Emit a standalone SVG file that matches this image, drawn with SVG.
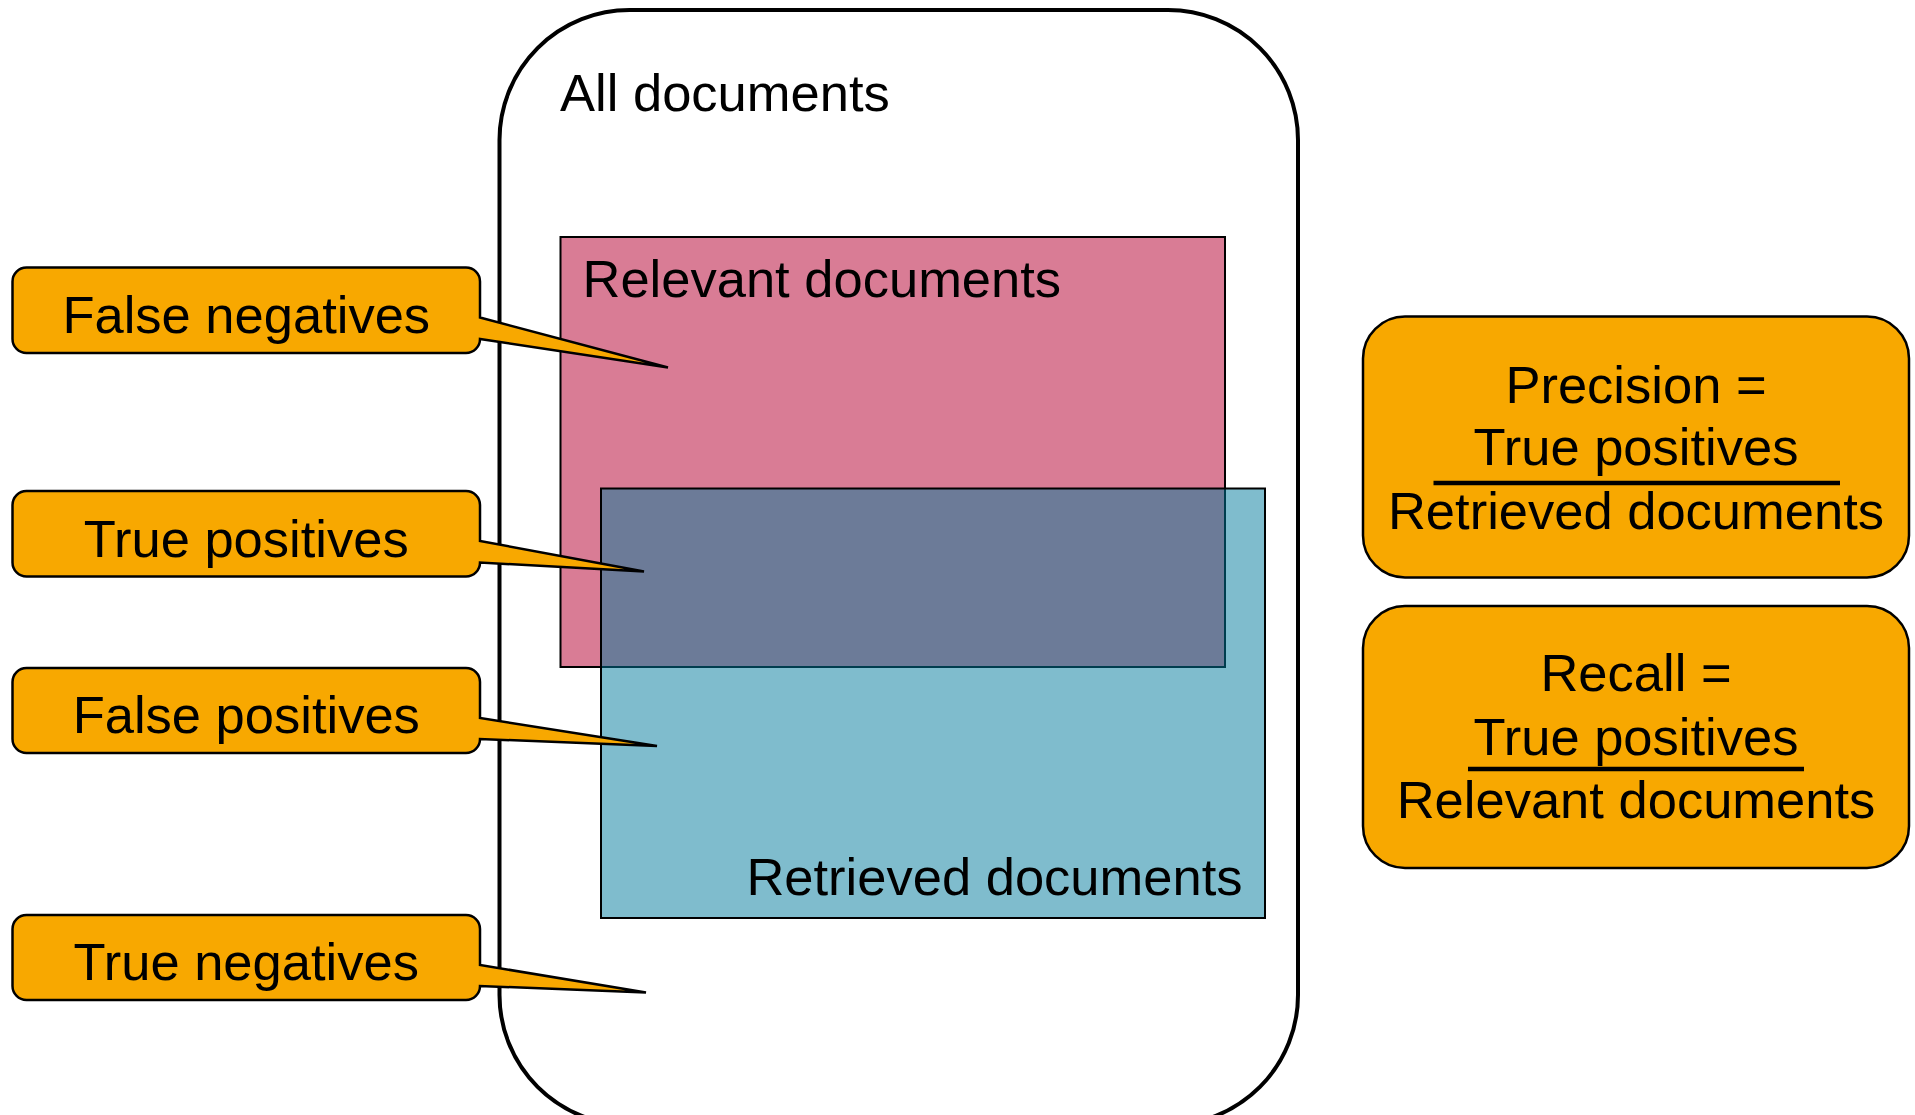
<svg xmlns="http://www.w3.org/2000/svg" width="1915" height="1115" viewBox="0 0 1915 1115">
  <style>
    text { font-family: "Liberation Sans", Arial, sans-serif; font-size: 52.5px; fill: #000; }
    .mid { text-anchor: middle; }
    .callout { fill: #F8A800; stroke: #000; stroke-width: 2.5; stroke-linejoin: miter; }
    .formula { fill: #F8A800; stroke: #000; stroke-width: 2.5; }
    .bar { stroke: #000; stroke-width: 4.5; }
  </style>
  <rect width="1915" height="1115" fill="#fff"/>

  <!-- the set of all documents -->
  <g id="all-documents">
    <rect x="499.5" y="10" width="798.5" height="1115" rx="130" ry="130" fill="#fff" stroke="#000" stroke-width="4"/>
    <text x="560" y="110.5">All documents</text>
  </g>

  <!-- relevant documents -->
  <g id="relevant-documents">
    <rect x="560.5" y="237" width="664.5" height="430" fill="#D97C95" stroke="#000" stroke-width="2"/>
    <text x="582.5" y="297">Relevant documents</text>
  </g>

  <!-- retrieved documents, laid over the relevant set -->
  <g id="retrieved-documents">
    <rect x="601" y="488.5" width="664" height="429.5" fill="#00799B" fill-opacity="0.5" stroke="#000" stroke-width="2"/>
    <text x="1242.5" y="895" text-anchor="end">Retrieved documents</text>
  </g>

  <!-- callouts pointing into the regions -->
  <g id="false-negatives">
    <path class="callout" d="M26.5 267.5 H466 A14 14 0 0 1 480 281.5 V317.5 L668 367.5 L480 339 A14 14 0 0 1 466 353 H26.5 A14 14 0 0 1 12.5 339 V281.5 A14 14 0 0 1 26.5 267.5 Z"/>
    <text class="mid" x="246.25" y="333.3">False negatives</text>
  </g>
  <g id="true-positives">
    <path class="callout" d="M26.5 491 H466 A14 14 0 0 1 480 505 V541 L644 571.5 L480 562.5 A14 14 0 0 1 466 576.5 H26.5 A14 14 0 0 1 12.5 562.5 V505 A14 14 0 0 1 26.5 491 Z"/>
    <text class="mid" x="246.25" y="556.7">True positives</text>
  </g>
  <g id="false-positives">
    <path class="callout" d="M26.5 668 H466 A14 14 0 0 1 480 682 V718 L657 746 L480 739 A14 14 0 0 1 466 753 H26.5 A14 14 0 0 1 12.5 739 V682 A14 14 0 0 1 26.5 668 Z"/>
    <text class="mid" x="246.25" y="732.7">False positives</text>
  </g>
  <g id="true-negatives">
    <path class="callout" d="M26.5 915 H466 A14 14 0 0 1 480 929 V965 L646 992.5 L480 986 A14 14 0 0 1 466 1000 H26.5 A14 14 0 0 1 12.5 986 V929 A14 14 0 0 1 26.5 915 Z"/>
    <text class="mid" x="246.25" y="980">True negatives</text>
  </g>

  <!-- formulas -->
  <g id="precision">
    <rect class="formula" x="1363" y="316.5" width="546" height="261" rx="42" ry="42"/>
    <text class="mid" x="1636" y="402.8">Precision =</text>
    <text class="mid" x="1636" y="465.4">True positives</text>
    <line class="bar" x1="1433.5" y1="483" x2="1840" y2="483"/>
    <text class="mid" x="1636" y="529.4">Retrieved documents</text>
  </g>
  <g id="recall">
    <rect class="formula" x="1363" y="606" width="546" height="262" rx="42" ry="42"/>
    <text class="mid" x="1636" y="691.4">Recall =</text>
    <text class="mid" x="1636" y="755">True positives</text>
    <line class="bar" x1="1468" y1="769" x2="1804" y2="769"/>
    <text class="mid" x="1636" y="818">Relevant documents</text>
  </g>
</svg>
